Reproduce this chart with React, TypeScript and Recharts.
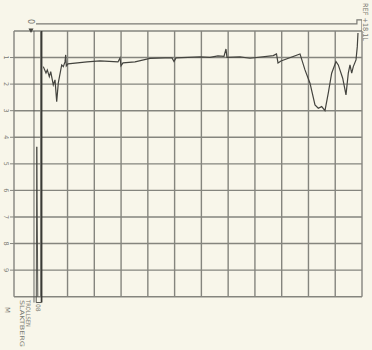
import { Line, LineChart, ReferenceLine, XAxis, YAxis } from "recharts";

// sounding profile (x = grid column, y = depth unit)
const profileX = [
  1.094, 1.195, 1.244, 1.319, 1.371, 1.468, 1.532, 1.595, 1.655, 1.782, 1.842, 1.905, 1.931, 1.954, 2.017,
  2.727, 3.213, 3.885, 3.96, 3.997, 4.072, 4.52, 5.08, 5.641, 5.902, 5.977, 6.052, 6.948, 7.322, 7.62,
  7.844, 7.919, 7.956, 8.442, 8.816, 9.686, 9.806, 9.862, 9.974, 10.684, 10.87, 11.057, 11.244, 11.367,
  11.494, 11.617, 11.74, 11.867, 12.028, 12.114, 12.279, 12.402, 12.488, 12.551, 12.615, 12.675, 12.776,
  12.824, 12.85,
];
const profileY = [
  1.342, 1.579, 1.466, 1.718, 1.53, 2.03, 1.842, 2.658, 1.955, 1.278, 1.342, 1.165, 0.902, 1.316, 1.241,
  1.165, 1.128, 1.165, 1.015, 1.316, 1.203, 1.165, 1.034, 1.015, 1.015, 1.147, 1.015, 0.977, 0.996, 0.94,
  0.959, 0.677, 0.996, 0.977, 1.026, 0.929, 0.865, 1.203, 1.128, 0.865, 1.466, 1.966, 2.782, 2.906,
  2.846, 2.996, 2.342, 1.59, 1.154, 1.278, 1.778, 2.406, 1.59, 1.278, 1.59, 1.342, 1.09, 0.59, 0.075,
];

// reference line above the sheet
const topLineX = [0.822, 12.81, 12.81, 13, 13];
const topLineY = [-0.263, -0.263, -0.414, -0.414, 0];

// recorder traces at the left edge
const traceAX = [0.747, 0.747];
const traceAY = [0, 10.22];
const traceBX = [1.03, 1.03];
const traceBY = [0, 10.22];
const spikeX = [0.833, 0.852, 0.889];
const spikeY = [10, 4.36, 10];
const boxX = [0.83, 0.83, 1.03];
const boxY = [10, 10.22, 10.22];

const xTicks = [0, 1, 2, 3, 4, 5, 6, 7, 8, 9, 10, 11, 12, 13];
const yTicks = [0, 1, 2, 3, 4, 5, 6, 7, 8, 9, 10];
const depthLabels = ["1", "2", "3", "4", "5", "6", "7", "8", "9"];

const zip = (xs: number[], ys: number[]) => xs.map((x, i) => ({ x, y: ys[i] }));

const profile = zip(profileX, profileY);
const topLine = zip(topLineX, topLineY);
const traceA = zip(traceAX, traceAY);
const traceB = zip(traceBX, traceBY);
const spike = zip(spikeX, spikeY);
const box = zip(boxX, boxY);

const GRID = "#85857e";
const INK = "#44443f";
const LABEL = "#7a7a72";

function DepthTick(props: any) {
  const { x, y, payload } = props;
  const label = depthLabels[payload.value - 1] ?? String(payload.value);
  return (
    <text
      transform={`translate(${x - 4},${y}) rotate(90)`}
      textAnchor="middle"
      fontSize={6.5}
      fill={LABEL}
      fontFamily="DejaVu Sans"
    >
      {label}
    </text>
  );
}

function Rot({ x, y, size, children, len }: { x: number; y: number; size: number; children: string; len?: number }) {
  return (
    <text
      transform={`translate(${x},${y}) rotate(90)`}
      fontSize={size}
      fill={LABEL}
      fontFamily="DejaVu Sans"
      textLength={len}
      lengthAdjust={len ? "spacingAndGlyphs" : undefined}
    >
      {children}
    </text>
  );
}

export default function App() {
  const line = (data: { x: number; y: number }[], width: number, color = INK) => (
    <Line
      data={data}
      dataKey="y"
      type="linear"
      stroke={color}
      strokeWidth={width}
      dot={false}
      activeDot={false}
      isAnimationActive={false}
    />
  );

  return (
    <div style={{ position: "absolute", left: 0, top: 0, width: 372, height: 350, background: "#f8f6ea" }}>
      <LineChart width={372} height={350} margin={{ top: 19, right: 10, bottom: 44, left: 0 }}>
        <XAxis
          dataKey="x"
          type="number"
          domain={[0, 13]}
          ticks={xTicks}
          allowDataOverflow
          height={0}
          tick={false}
          axisLine={false}
          tickLine={false}
        />
        <YAxis
          type="number"
          domain={[-0.45, 10.35]}
          reversed
          allowDataOverflow
          ticks={depthLabels.map((_, i) => i + 1)}
          interval={0}
          width={14}
          axisLine={false}
          tickLine={{ stroke: GRID }}
          tickSize={4}
          tick={<DepthTick />}
        />
        {xTicks.map((t) => (
          <ReferenceLine
            key={`v${t}`}
            segment={[{ x: t, y: 0 }, { x: t, y: 10 }]}
            stroke={GRID}
            strokeWidth={1.4}
            ifOverflow="visible"
          />
        ))}
        {yTicks.map((t) => (
          <ReferenceLine
            key={`h${t}`}
            segment={[{ x: 0, y: t }, { x: 13, y: t }]}
            stroke={GRID}
            strokeWidth={1.4}
            ifOverflow="visible"
          />
        ))}
        {line(topLine, 1.2, "#7a7a74")}
        {line(traceA, 0.9, "#5a5a55")}
        {line(traceB, 1.7, "#3a3a36")}
        {line(spike, 0.9)}
        {line(box, 0.9)}
        {line(profile, 1.2)}
      </LineChart>
      <svg width={372} height={350} style={{ position: "absolute", left: 0, top: 0, pointerEvents: "none" }}>
        <Rot x={28} y={19} size={8}>0</Rot>
        <polygon points="28.5,28.5 33.5,28.5 31,33" fill={INK} />
        <Rot x={363} y={3} size={7} len={38}>REF +18.1L</Rot>
        <Rot x={5} y={307} size={7}>M</Rot>
        <Rot x={26} y={300} size={6} len={27}>TROLLSEN</Rot>
        <Rot x={20} y={300} size={6} len={47}>SLAKTBERG</Rot>
        <Rot x={36} y={304} size={6}>08</Rot>
      </svg>
    </div>
  );
}
